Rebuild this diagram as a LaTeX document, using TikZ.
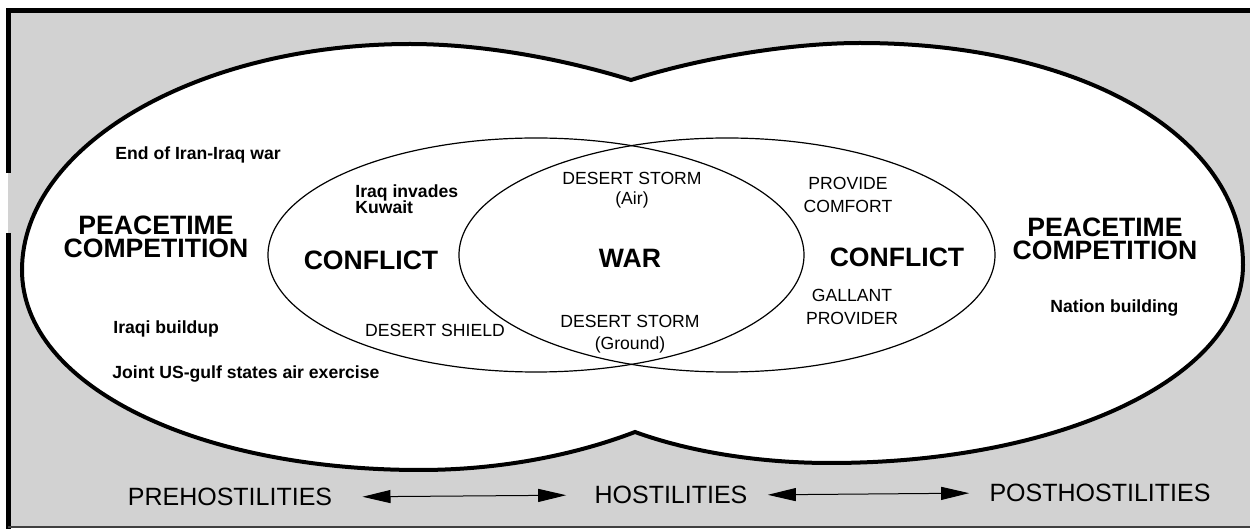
\documentclass[tikz,border=0pt]{standalone}
\usepackage{fontspec}
\setmainfont{Liberation Sans}
\usetikzlibrary{arrows.meta}
\definecolor{halftone}{RGB}{210,210,210}
\AtBeginDocument{\lineskiplimit=-20pt\relax}
\begin{document}
\begin{tikzpicture}[x=0.5pt,y=-0.5pt,
  big/.style={font=\fontsize{13.3}{11.6}\selectfont\bfseries, inner sep=0pt, align=center},
  small/.style={font=\fontsize{8.8}{10}\selectfont, inner sep=0pt, align=center},
  smallb/.style={font=\fontsize{8.8}{7.8}\selectfont\bfseries, inner sep=0pt, align=left},
  phase/.style={font=\fontsize{12.5}{14}\selectfont, inner sep=0pt},
  frameline/.style={line width=2.5pt},
  outline/.style={line width=2pt, fill=white, line join=miter, miter limit=30},
  innerell/.style={line width=0.6pt},
  biarrow/.style={line width=0.5pt, {Triangle[length=14pt,width=6.5pt]}-{Triangle[length=14pt,width=6.5pt]}}
]
\useasboundingbox (0,0) rectangle (1250,529);
% halftone background and frame
\fill[halftone] (8,11) rectangle (1250,527);
\draw[frameline] (6,11) -- (1250,11);
\draw[frameline] (8,11) -- (8,173);
\draw[frameline] (8,233) -- (8,529);
\draw[line width=1.2pt, black!75] (8,527) -- (1250,527);

% union outline of the two large shapes
\path[outline, draw] (631,80)
  .. controls (560,58) and (480,44) .. (410,44)
  .. controls (197,44) and (22,146) .. (22,270)
  .. controls (22,385) and (195,470) .. (420,470)
  .. controls (500,470) and (575,455) .. (635,432)
  .. controls (690,452) and (760,463) .. (830,463)
  .. controls (1060,463) and (1243,378) .. (1243,265)
  .. controls (1243,136) and (1082,43) .. (860,43)
  .. controls (790,43) and (700,58) .. (631,80) -- cycle;

% inner ellipses
\draw[innerell] (536,255) ellipse [x radius=134pt, y radius=58.5pt];
\draw[innerell] (727,255) ellipse [x radius=134pt, y radius=58.5pt];

% big labels
\node[big] (peaceL) at (156,237) {PEACETIME\\COMPETITION};
\node[big] (peaceR) at (1105,239) {PEACETIME\\COMPETITION};
\node[big] (conflictL) at (371,260) {CONFLICT};
\node[big] (war) at (630,258) {WAR};
\node[big] (conflictR) at (897,257) {CONFLICT};

% small labels
\node[smallb, anchor=base west] (endwar) at (115,160) {End of Iran-Iraq war};
\node[smallb, anchor=west] (invades) at (355,199) {Iraq invades\\Kuwait};
\node[smallb, anchor=base west] (buildup) at (113,334) {Iraqi buildup};
\node[smallb, anchor=base west] (joint) at (112,379) {Joint US-gulf states air exercise};
\node[smallb, anchor=base west] (nation) at (1050,313) {Nation building};

\node[small] (stormair) at (632,190) {DESERT STORM\\(Air)};
\node[small, font=\fontsize{8.8}{11.5}\selectfont] (provide) at (848,195) {PROVIDE\\COMFORT};
\node[small, anchor=base] (shield) at (435,337) {DESERT SHIELD};
\node[small, font=\fontsize{8.8}{11}\selectfont] (stormground) at (630,334) {DESERT STORM\\(Ground)};
\node[small, font=\fontsize{8.8}{11.5}\selectfont] (gallant) at (852,307) {GALLANT\\PROVIDER};

% phase labels and arrows
\node[phase] (pre) at (230,497) {PREHOSTILITIES};
\node[phase] (host) at (671,495) {HOSTILITIES};
\node[phase] (post) at (1100,493) {POSTHOSTILITIES};
\draw[biarrow, shorten <=15pt, shorten >=14pt] (pre.east) -- (host.west);
\draw[biarrow, shorten <=10pt, shorten >=10pt] (host.east) -- (post.west);
\end{tikzpicture}
\end{document}
